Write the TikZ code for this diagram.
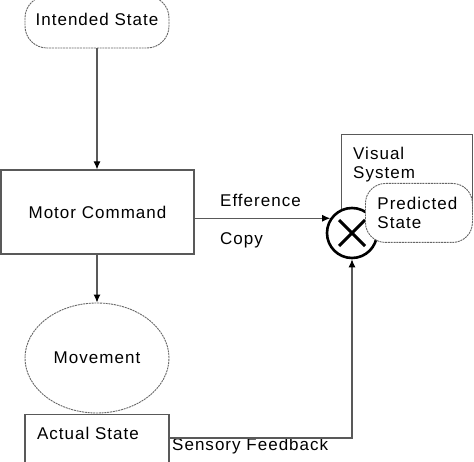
\documentclass[tikz,border=0pt]{standalone}
\usepackage{fontspec}
\setmainfont{Liberation Sans}[LetterSpace=6]
\usetikzlibrary{shapes.geometric,arrows.meta}

\tikzstyle{lbl} = [font=\fontsize{17}{19}\selectfont, inner sep=0, align=left]
\tikzstyle{box} = [draw=black!65, line width=1.1pt, inner sep=0]
\tikzstyle{soft} = [draw=black!60, line width=0.9pt, dash pattern=on 2pt off 0.8pt, fill=white, inner sep=0]
\tikzstyle{conn} = [draw=black!65, line width=1.1pt, -{Latex[length=8pt,width=7pt,color=black]}]
\tikzstyle{mix} = [draw=black, line width=2.6pt, circle, inner sep=0, minimum size=50pt, fill=white, path picture={
      \draw[line width=3pt] ([shift={(-13pt,13pt)}]path picture bounding box.center) -- ([shift={(13pt,-13pt)}]path picture bounding box.center);
      \draw[line width=3pt] ([shift={(-13pt,-13pt)}]path picture bounding box.center) -- ([shift={(13pt,13pt)}]path picture bounding box.center);}]

\begin{document}
\begin{tikzpicture}[x=1pt,y=-1pt]
	\useasboundingbox (0,0) rectangle (474,462);

%Nodes
	\node[soft, lbl, rounded corners=22pt, minimum width=144pt, minimum height=52pt, text depth=6pt] (intended) at (97,22) {Intended State};
	\node[box, lbl, minimum width=193pt, minimum height=84pt] (motor) at (97.5,212) {Motor Command};
	\node[soft, lbl, ellipse, minimum width=144pt, minimum height=110pt] (movement) at (97,358) {Movement};
	\node[box, lbl, minimum width=144pt, text width=120pt, text height=25pt, text depth=34pt, anchor=north] (actual) at (97,414) {Actual State};

	\node[box, minimum width=131pt, minimum height=78pt, anchor=north west] (visual) at (341,134) {};
	\node[lbl, anchor=north west] (vistxt) at (353,147) {Visual\\System};
	\node[mix] (cross) at (352,233) {};
	\node[soft, lbl, rounded corners=20pt, minimum width=107pt, minimum height=59pt, text width=83pt, anchor=north west] (predicted) at (365,183) {Predicted\\State};

	\node[lbl, anchor=south west] (efftxt) at (220,207) {Efference};
	\node[lbl, anchor=base west] (copytxt) at (220,245) {Copy};
	\node[lbl, anchor=base west] (senstxt) at (172,450) {Sensory Feedback};

%Connections
	\draw[conn] (intended.south) -- (intended.south |- motor.north);
	\draw[conn] (movement.north |- motor.south) -- (movement.north);
	\draw[conn] (cross.146 -| motor.east) -- (cross.146);
	\draw[conn] ([yshift=-24pt]actual.north east) -| (cross.south);

\end{tikzpicture}
\end{document}
